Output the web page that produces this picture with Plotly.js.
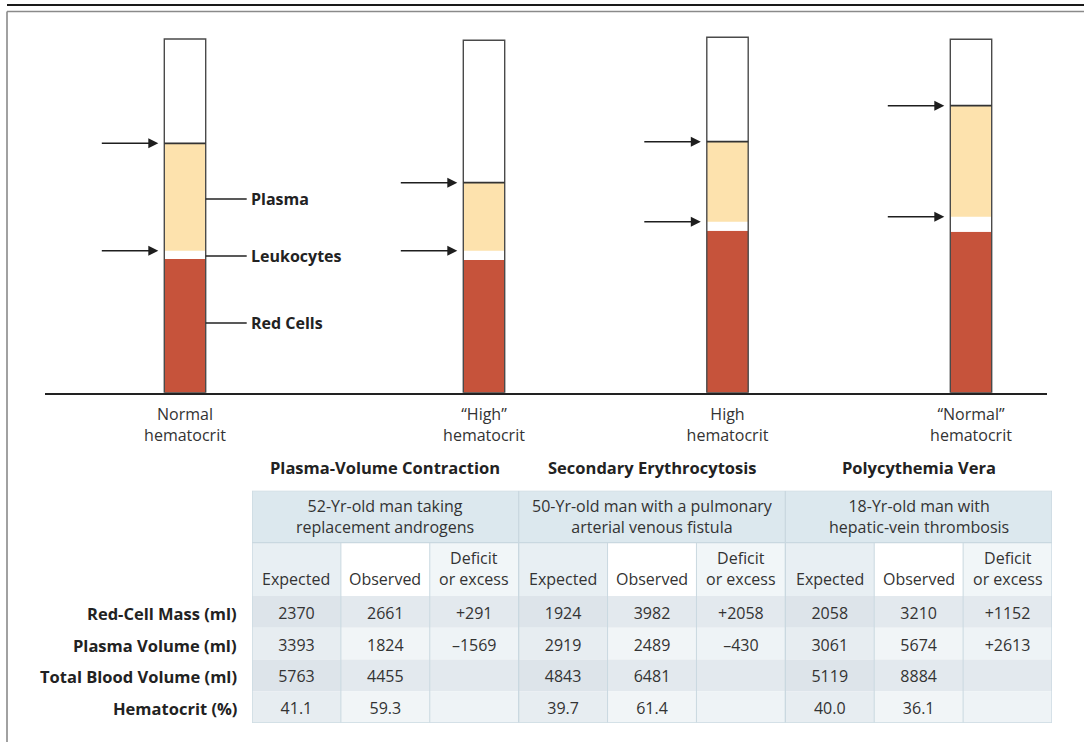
<!DOCTYPE html>
<html><head><meta charset="utf-8">
<script src="https://cdn.plot.ly/plotly-3.0.1.min.js"></script>
<style>html,body{margin:0;padding:0;background:#fff}#chart{width:1084px;height:742px}</style>
</head><body><div id="chart"></div>
<script>
// ---------- data: tubes (schematic heights) ----------
const tubeLabels = ['Normal<br>hematocrit', '\u201cHigh\u201d<br>hematocrit', 'High<br>hematocrit', '\u201cNormal\u201d<br>hematocrit'];
const redCells   = [133.7, 132.7, 162.0, 161.0];
const leukocytes = [8.3, 9.3, 9.0, 15.0];
const plasma     = [107.4, 68.0, 80.0, 111.0];
const tubeHeight = [353.7, 352.4, 355.4, 353.4];
const componentLabels = ['Plasma', 'Leukocytes', 'Red Cells'];

// ---------- data: table ----------
const sectionTitles = ['Plasma-Volume Contraction', 'Secondary Erythrocytosis', 'Polycythemia Vera'];
const caseLabels = ['52-Yr-old man taking<br>replacement androgens', '50-Yr-old man with a pulmonary<br>arterial venous fistula', '18-Yr-old man with<br>hepatic-vein thrombosis'];
const columnLabels = ['Expected', 'Observed', 'Deficit<br>or excess'];
const rowLabels = ['Red-Cell Mass (ml)', 'Plasma Volume (ml)', 'Total Blood Volume (ml)', 'Hematocrit (%)'];
const expected1 = [2370, 3393, 5763, 41.1];
const observed1 = [2661, 1824, 4455, 59.3];
const change1   = ['+291', '\u20131569', '', ''];
const expected2 = [1924, 2919, 4843, 39.7];
const observed2 = [3982, 2489, 6481, 61.4];
const change2   = ['+2058', '\u2013430', '', ''];
const expected3 = [2058, 3061, 5119, 40.0];
const observed3 = [3210, 5674, 8884, 36.1];
const change3   = ['+1152', '+2613', '', ''];

// ---------- layout constants ----------
const W = 1084, H = 742;
const FONT = 'Open Sans, sans-serif';
const tubeX = [185, 484, 727.5, 971];
const barW = 41.4;
const RED = '#c6533b', PLASMA = '#fde2ad';
const labelLevels = [193.7, 136.7, 69.7];
const TBL_L = 252, TBL_R = 1052;

const px = v => v / W;           // paper x from pixel
const py = v => (H - v) / H;     // paper y from pixel (top-based)

// cumulative bases
const leukBase = redCells.slice();
const plasmaBase = redCells.map((r, i) => r + leukocytes[i]);
const plasmaTop = plasmaBase.map((b, i) => b + plasma[i]);

const traces = [];
const barCommon = {type: 'bar', x: tubeX, width: barW, hoverinfo: 'skip', showlegend: false, xaxis: 'x', yaxis: 'y'};
traces.push(Object.assign({}, barCommon, {name: 'Red Cells', y: redCells, base: 0, marker: {color: RED, line: {width: 0}}}));
traces.push(Object.assign({}, barCommon, {name: 'Leukocytes', y: leukocytes, base: leukBase, marker: {color: '#ffffff', line: {width: 0}}}));
traces.push(Object.assign({}, barCommon, {name: 'Plasma', y: plasma, base: plasmaBase, marker: {color: PLASMA, line: {width: 0}}}));
traces.push(Object.assign({}, barCommon, {name: 'Tube', y: tubeHeight, base: 0, marker: {color: 'rgba(0,0,0,0)', line: {width: 1.4, color: '#4a4a4a'}}}));

// meniscus lines on top of plasma
const lx = [], ly = [];
tubeX.forEach((c, i) => { lx.push(c - barW / 2, c + barW / 2, null); ly.push(plasmaTop[i], plasmaTop[i], null); });
traces.push({type: 'scatter', mode: 'lines', x: lx, y: ly, line: {color: '#333', width: 1.7}, hoverinfo: 'skip', showlegend: false, xaxis: 'x', yaxis: 'y'});

// ---------- table (drawn on its own axes: x2 = column index, y2 = row offset) ----------
const rowEdges = [0, 52, 105.3, 137, 168.7, 200.5, 232];   // header1, header2, 4 body rows
const CB = '#c9d8e0';
const shapes = [];
const annotations = [];

caseLabels.forEach((t, k) => {
  shapes.push({type: 'rect', xref: 'x2', yref: 'y2', x0: 3 * k, x1: 3 * k + 3, y0: rowEdges[0], y1: rowEdges[1],
    fillcolor: '#dce8ee', line: {width: 0}, layer: 'below'});
});
const hdrFill = ['#e8eff3', '#ffffff', '#f1f6f8'];
const bodyFill = [['#dde4ea', '#e7edf1', '#dde4ea', '#e7edf1'],
                  ['#e3e9ee', '#f1f5f7', '#e3e9ee', '#f1f5f7'],
                  ['#e3e9ee', '#eef3f6', '#e3e9ee', '#eef3f6']];
for (let c = 0; c < 9; c++) {
  shapes.push({type: 'rect', xref: 'x2', yref: 'y2', x0: c, x1: c + 1, y0: rowEdges[1], y1: rowEdges[2],
    fillcolor: hdrFill[c % 3], line: {width: 0}, layer: 'below'});
  for (let r = 0; r < 4; r++) {
    shapes.push({type: 'rect', xref: 'x2', yref: 'y2', x0: c, x1: c + 1, y0: rowEdges[r + 2], y1: rowEdges[r + 3],
      fillcolor: bodyFill[c % 3][r], line: {width: 0}, layer: 'below'});
  }
}
for (let c = 0; c <= 9; c++) {
  shapes.push({type: 'line', xref: 'x2', yref: 'y2', x0: c, x1: c, y0: (c % 3 === 0) ? 0 : rowEdges[1], y1: rowEdges[6],
    line: {color: CB, width: (c % 3 === 0) ? 1.3 : 1}});
}
[0, 1, 6].forEach(r => {
  shapes.push({type: 'line', xref: 'x2', yref: 'y2', x0: 0, x1: 9, y0: rowEdges[r], y1: rowEdges[r], line: {color: CB, width: 1.3}});
});

caseLabels.forEach((t, k) => {
  annotations.push({x: 3 * k + 1.5, y: (rowEdges[0] + rowEdges[1]) / 2, xref: 'x2', yref: 'y2', showarrow: false,
    text: t, align: 'center', xanchor: 'center', yanchor: 'middle', font: {family: FONT, size: 16, color: '#333'}});
});
for (let c = 0; c < 9; c++) {
  const lab = columnLabels[c % 3];
  const two = lab.indexOf('<br>') >= 0;
  annotations.push({x: c + 0.5, y: two ? 77.5 : 88.3, xref: 'x2', yref: 'y2', showarrow: false,
    text: lab, align: 'center', xanchor: 'center', yanchor: 'middle', font: {family: FONT, size: 16, color: '#333'}});
}
const colW = (TBL_R - TBL_L) / 3;
sectionTitles.forEach((t, k) => {
  annotations.push({x: px(TBL_L + colW * (k + 0.5)), y: py(467), xref: 'paper', yref: 'paper', showarrow: false,
    text: '<b>' + t + '</b>', xanchor: 'center', yanchor: 'middle', font: {family: FONT, size: 16.5, color: '#222'}});
});
rowLabels.forEach((t, r) => {
  annotations.push({x: 0, y: (rowEdges[r + 2] + rowEdges[r + 3]) / 2 + 1.5, xref: 'x2', yref: 'y2', showarrow: false,
    xshift: -13, text: '<b>' + t + '</b>', xanchor: 'right', yanchor: 'middle', font: {family: FONT, size: 16.5, color: '#222'}});
});

// body values as a text trace on the table axes
const cols = [expected1, observed1, change1, expected2, observed2, change2, expected3, observed3, change3];
const tx = [], ty = [], tt = [];
cols.forEach((col, c) => {
  col.forEach((v, r) => {
    if (v === '') return;
    tx.push(c + 0.5);
    ty.push((rowEdges[r + 2] + rowEdges[r + 3]) / 2 + 3);
    tt.push(typeof v === 'number' ? (r === 3 ? v.toFixed(1) : String(v)) : v);
  });
});
traces.push({type: 'scatter', mode: 'text', x: tx, y: ty, text: tt, textposition: 'middle center',
  textfont: {family: FONT, size: 16, color: '#333'}, hoverinfo: 'skip', showlegend: false, xaxis: 'x2', yaxis: 'y2', cliponaxis: false});

// ---------- tube annotations ----------
tubeX.forEach((c, i) => {
  const head = c - barW / 2 - 6;
  [plasmaTop[i], plasmaBase[i]].forEach(lev => {
    annotations.push({x: head, y: lev, ax: head - 58, ay: lev, xref: 'x', yref: 'y', axref: 'x', ayref: 'y',
      text: '', showarrow: true, arrowhead: 2, arrowsize: 1.25, arrowwidth: 1.6, arrowcolor: '#1e1e1e', standoff: 0});
  });
});
const edge = tubeX[0] + barW / 2;
componentLabels.forEach((t, k) => {
  shapes.push({type: 'line', xref: 'x', yref: 'y', x0: edge, x1: edge + 41, y0: labelLevels[k], y1: labelLevels[k], line: {color: '#222', width: 1.6}});
  annotations.push({x: edge + 43, y: labelLevels[k], xref: 'x', yref: 'y', xanchor: 'left', yanchor: 'middle', showarrow: false,
    text: '<b>' + t + '</b>', font: {family: FONT, size: 16, color: '#222'}});
});

// frame lines
shapes.push({type: 'line', xref: 'paper', yref: 'paper', x0: px(7), x1: 1, y0: py(5), y1: py(5), line: {color: '#1a1a1a', width: 2.2}});
shapes.push({type: 'line', xref: 'paper', yref: 'paper', x0: px(7), x1: 1, y0: py(11.5), y1: py(11.5), line: {color: '#8a8a8a', width: 1.6}});
shapes.push({type: 'line', xref: 'paper', yref: 'paper', x0: px(7), x1: px(7), y0: py(11.5), y1: 0, line: {color: '#8a8a8a', width: 1.6}});

const layout = {
  width: W, height: H,
  margin: {l: 0, r: 0, t: 0, b: 0},
  paper_bgcolor: '#fff', plot_bgcolor: 'rgba(0,0,0,0)',
  barmode: 'overlay',
  showlegend: false,
  font: {family: FONT, color: '#333'},
  xaxis: {domain: [px(45), px(1047)], range: [45, 1047], showgrid: false, zeroline: false, showline: true,
    linecolor: '#222', linewidth: 1.8, ticks: '', tickvals: tubeX, ticktext: tubeLabels, ticklabelstandoff: 6,
    tickfont: {family: FONT, size: 16, color: '#333'}, fixedrange: true},
  yaxis: {domain: [py(392.7), py(30)], range: [0, 362.7], visible: false, fixedrange: true},
  xaxis2: {domain: [px(TBL_L), px(TBL_R)], range: [0, 9], visible: false, fixedrange: true, anchor: 'y2'},
  yaxis2: {domain: [py(722.7), py(490.7)], range: [232, 0], visible: false, fixedrange: true, anchor: 'x2'},
  annotations: annotations,
  shapes: shapes
};
Plotly.newPlot('chart', traces, layout, {displayModeBar: false, staticPlot: true});
</script>
</body></html>
